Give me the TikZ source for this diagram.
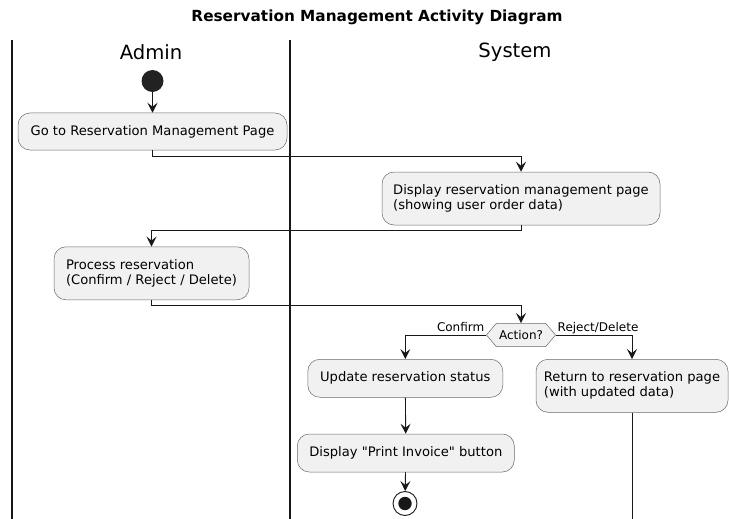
\documentclass[tikz,border=0pt]{standalone}
\usepackage{fontspec}
\setmainfont{DejaVu Sans}
\usepackage{tikz}
\usetikzlibrary{arrows.meta,shapes.symbols}
\definecolor{boxfill}{HTML}{F1F1F1}
\definecolor{ink}{HTML}{181818}
\definecolor{startdot}{HTML}{222222}

\begin{document}
\begin{tikzpicture}[x=1pt, y=-1pt,
	act/.style={draw=ink!65, line width=.5pt, fill=boxfill, rounded corners=12pt, align=left, inner sep=0pt, font=\fontsize{13.1}{15}\selectfont},
	flow/.style={draw=ink, line width=.9pt, -{Stealth[length=10pt,width=10pt,inset=4pt]}},
	lane/.style={draw=ink, line width=1.4pt},
	small/.style={font=\fontsize{12}{14}\selectfont, inner sep=0pt}]
	\useasboundingbox (0,0) rectangle (729,519);
	\node (title) at (377,17) {\fontsize{15.3}{18}\selectfont\bfseries Reservation Management Activity Diagram};
	\foreach \x in {12,290} {
		\draw[lane] (\x,40) -- (\x,519);
	}
	\node[font=\fontsize{19.6}{22}\selectfont] (admin) at (151,52) {Admin};
	\node[font=\fontsize{19.6}{22}\selectfont] (system) at (515,52) {System};
	\node[circle, fill=startdot, minimum size=22pt, inner sep=0pt] (start) at (152.5,81) {};
	\node[act, minimum width=269, minimum height=37] (goto) at (152.5,131.5) {Go to Reservation Management Page};
	\node[act, minimum width=278, minimum height=53] (disp) at (521,198.5) {Display reservation management page\\(showing user order data)};
	\node[act, minimum width=195, minimum height=53] (proc) at (151.5,273.3) {Process reservation\\(Confirm / Reject / Delete)};
	\node[small, signal, signal to=west and east, signal pointer angle=100, draw=ink!65, line width=.5pt, fill=boxfill, minimum width=69, minimum height=23.4] (choice) at (521,335) {Action?};
	\node[act, minimum width=195, minimum height=38] (upd) at (405.3,378.3) {Update reservation status};
	\node[act, minimum width=192, minimum height=53] (ret) at (632,385.8) {Return to reservation page\\(with updated data)};
	\node[act, minimum width=217, minimum height=38] (prt) at (405.8,453) {Display \textquotedbl Print Invoice\textquotedbl{} button};
	\node[circle, draw=ink, line width=.9pt, fill=white, minimum size=24pt, inner sep=0pt,
		path picture={\fill[ink] (path picture bounding box.center) circle (6.7pt);}] (stop) at (405,503.5) {};
	\node[small, anchor=base east] (yes) at (484.5,331) {Confirm};
	\node[small, anchor=base west] (no) at (557.5,331) {Reject/Delete};
	\draw[flow] (start) -- (goto);
	\draw[flow] (goto.south) -- ++(0,6) -| (disp.north);
	\draw[flow] (disp.south) -- ++(0,5) -| (proc.north);
	\draw[flow] (proc.south) -- ++(0,5) -| (choice.north);
	\draw[flow] (choice.west) -| (upd.north);
	\draw[flow] (choice.east) -| (ret.north);
	\draw[flow] (upd) -- (prt);
	\draw[flow] (prt) -- (stop);
	\draw[draw=ink, line width=.9pt] (ret.south) -- ++(0,110);
\end{tikzpicture}
\end{document}
